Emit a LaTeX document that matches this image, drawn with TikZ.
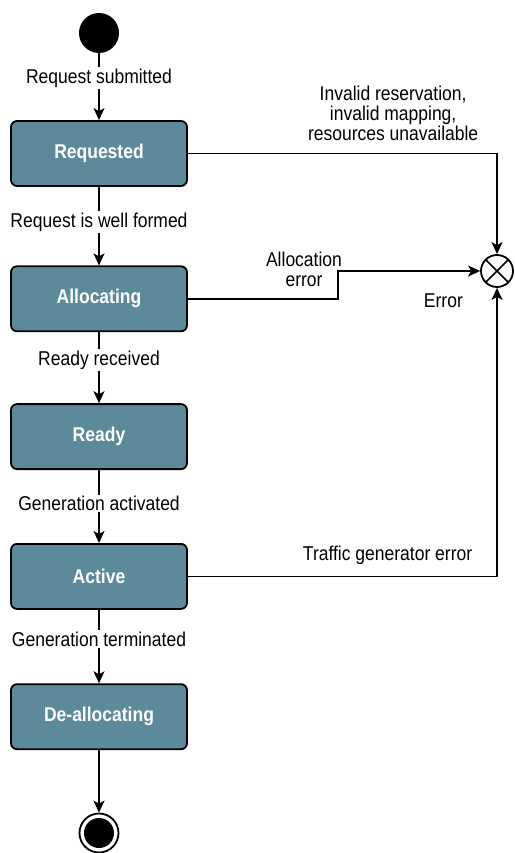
\documentclass[tikz,border=0pt]{standalone}
\usepackage{fontspec}
\setmainfont[FakeStretch=0.875]{Liberation Sans}
\usetikzlibrary{positioning,arrows.meta}
\definecolor{statefill}{RGB}{92,138,155}
\tikzset{
  statebox/.style={draw=black,line width=1.8pt,fill=statefill,rounded corners=6pt,
    minimum width=176pt,minimum height=65pt,text=white,
    font=\fontsize{20}{20}\selectfont\bfseries},
  translbl/.style={fill=white,inner sep=1.5pt,font=\fontsize{20}{20}\selectfont},
  msglbl/.style={inner sep=2pt,align=center,font=\fontsize{20}{20}\selectfont},
  flow/.style={line width=1.4pt,-{Stealth[length=12pt,width=11pt,inset=3pt]}},
}

\begin{document}
\begin{tikzpicture}[x=1pt,y=-1pt]
\useasboundingbox (0,0) rectangle (514,853);
% states
\node[circle,fill=black,minimum size=40pt,inner sep=0pt] (init) at (99,33) {};
\node[statebox] (req) at (99,153.5) {Requested};
\node[statebox,below=78.5pt of req] (alloc) {Allocating};
\node[statebox,below=71pt of alloc] (ready) {Ready};
\node[statebox,below=73pt of ready] (active) {Active};
\node[statebox,below=73.5pt of active] (dealloc) {De-allocating};
\node[circle,draw=black,line width=1.8pt,minimum size=39pt,inner sep=0pt,
  path picture={\fill[black] (path picture bounding box.center) circle (15pt);}] (final) at (99,833) {};
\node[circle,draw=black,line width=1.8pt,minimum size=32pt,inner sep=0pt,
  path picture={\draw[line width=1.6pt] (path picture bounding box.north west) -- (path picture bounding box.south east)
    (path picture bounding box.north east) -- (path picture bounding box.south west);}] (err) at (497,271) {};
\coordinate (allocstep) at (338,0);
% main flow
\draw[flow] (init) -- node[translbl,pos=0.37] (lblsubmit) {Request submitted} (req);
\draw[flow] (req) -- node[translbl,pos=0.45] (lblformed) {Request is well formed} (alloc);
\draw[flow] (alloc) -- node[translbl,pos=0.39] (lblready) {Ready received} (ready);
\draw[flow] (ready) -- node[translbl,pos=0.46] (lblactivated) {Generation activated} (active);
\draw[flow] (active) -- node[translbl,pos=0.40] (lblterminated) {Generation terminated} (dealloc);
\draw[flow] (dealloc) -- (final);
% error paths
\draw[flow] (req) -| node[msglbl,pos=0.332,above=10pt] (lblinvalid) {Invalid reservation,\\invalid mapping,\\resources unavailable} (err);
\draw[flow] (alloc.east) -| (allocstep |- err.west) -- (err.west);
\node[msglbl] (lblalloc) at (304,269) {Allocation\\error};
\draw[flow] (active) -| node[msglbl,pos=0.323,above=9pt] (lbltraffic) {Traffic generator error} (err);
\node[msglbl,below left=9pt and 20pt of err] (lblerror) {Error};
\end{tikzpicture}
\end{document}
